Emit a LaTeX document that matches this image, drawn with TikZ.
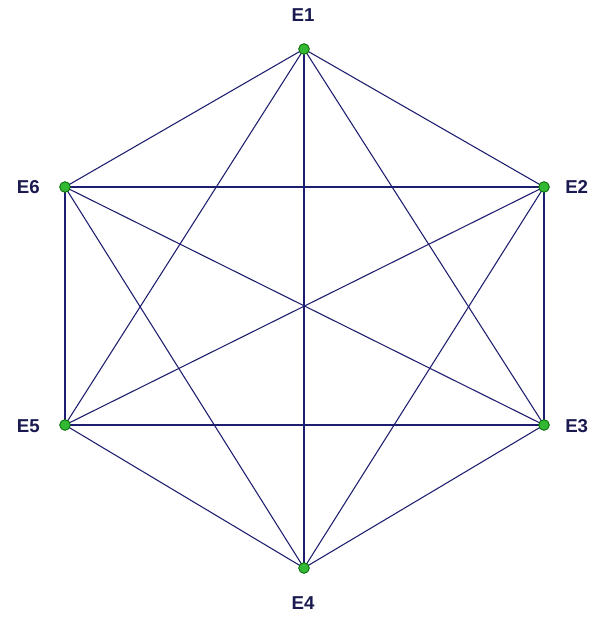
\documentclass[tikz,border=0pt]{standalone}
\usepackage{fontspec}
\setmainfont{Liberation Sans}
\begin{document}
\begin{tikzpicture}[x=0.75pt,y=-0.75pt,
  vert/.style={circle,fill=green!65!black!80,draw=green!40!black,line width=0.6pt,inner sep=0pt,minimum size=8pt},
  edge/.style={draw=edgeblue,line width=0.8pt},
  lab/.style={font=\bfseries\fontsize{14}{16}\selectfont,text=labblue,inner sep=0pt}]
\definecolor{edgeblue}{HTML}{1E1E70}
\definecolor{labblue}{HTML}{1A1A50}
\useasboundingbox (0,0) rectangle (592,624);
\fill[white] (0,0) rectangle (592,624);
\coordinate (p1) at (304,49);
\coordinate (p2) at (544,187);
\coordinate (p3) at (544,425);
\coordinate (p4) at (304,568);
\coordinate (p5) at (65,425);
\coordinate (p6) at (65,187);
\foreach \i in {1,...,6}{\foreach \j in {1,...,6}{\ifnum\i<\j \draw[edge] (p\i) -- (p\j);\fi}}
\foreach \i in {1,...,6}{\node[vert] (v\i) at (p\i) {};}
\node[lab] (l1) at (303,15) {E1};
\node[lab,anchor=west] (l2) at (565,187) {E2};
\node[lab,anchor=west] (l3) at (565,426) {E3};
\node[lab] (l4) at (303,603) {E4};
\node[lab,anchor=east] (l5) at (40,426) {E5};
\node[lab,anchor=east] (l6) at (40,187) {E6};
\end{tikzpicture}
\end{document}
